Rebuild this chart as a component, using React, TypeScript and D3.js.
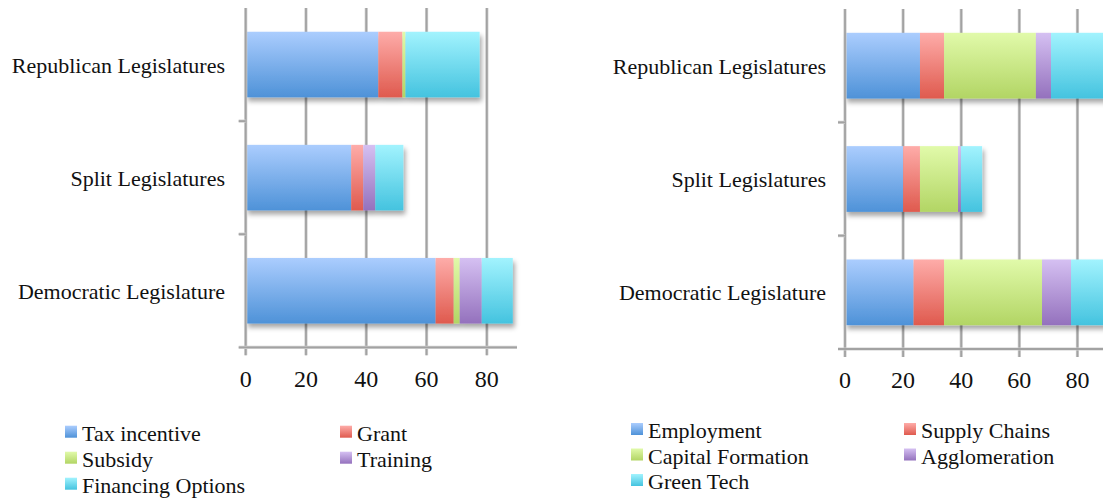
import React from "react";
import * as d3 from "d3";

// Legislature groups (rows of both charts)
const categories = ["Republican Legislatures", "Split Legislatures", "Democratic Legislature"];

// Left chart: incentive tools
const toolSeries = ["Tax incentive", "Grant", "Subsidy", "Training", "Financing Options"];
const taxIncentive = [44, 35, 63];
const grant = [8, 4, 6];
const subsidy = [1, 0, 2];
const training = [0, 4, 7.3];
const financingOptions = [24.6, 9.3, 10.3];

// Right chart: policy goals
const goalSeries = ["Employment", "Supply Chains", "Capital Formation", "Agglomeration", "Green Tech"];
const employment = [25.8, 20, 23.6];
const supplyChains = [8.3, 5.8, 10.5];
const capitalFormation = [31.6, 13.1, 33.7];
const agglomeration = [5.2, 1, 10];
const greenTech = [20, 7.3, 12];

const xTicks = [0, 20, 40, 60, 80];

// top / bottom colour of each series gradient
const palette: [string, string][] = [
  ["#abcdfe", "#4e92d8"],
  ["#feaca9", "#df5a4e"],
  ["#e1faaa", "#b2d564"],
  ["#d5c0f2", "#9471bd"],
  ["#a2f3fe", "#44c3df"],
];

const FONT = "'Liberation Serif', 'Times New Roman', serif";

type PanelProps = {
  id: string;
  series: string[];
  values: number[][];
  xRange: [number, number];
  yRange: [number, number];
  axisRight: number;
  labelRight: number;
  tickBaseline: number;
  legend: { x1: number; x2: number; y: number; step: number; sq: number };
};

function Panel({ id, series, values, xRange, yRange, axisRight, labelRight, tickBaseline, legend }: PanelProps) {
  const x = d3.scaleLinear().domain([0, 90]).range(xRange);
  const y = d3.scaleBand<string>().domain(categories).range(yRange).paddingInner(0.42).paddingOuter(0.21);

  const rows = categories.map((c, i) => {
    const r: Record<string, number | string> = { category: c };
    series.forEach((s, k) => (r[s] = values[k][i]));
    return r;
  });
  const stacked = d3.stack<Record<string, number | string>>().keys(series)(rows as any);

  const [top, bottom] = yRange;
  const x0 = x(0);
  const gridColor = "#a2a2a2";
  const gridLite = "#d0d0d0";

  const vLine = (px: number, key: string, y1: number, y2: number) => (
    <g key={key}>
      <line x1={px} x2={px} y1={y1} y2={y2} stroke={gridLite} strokeWidth={3.2} />
      <line x1={px} x2={px} y1={y1} y2={y2} stroke={gridColor} strokeWidth={1.8} />
    </g>
  );
  const hLine = (py: number, key: string, x1: number, x2: number) => (
    <g key={key}>
      <line x1={x1} x2={x2} y1={py} y2={py} stroke={gridLite} strokeWidth={3.2} />
      <line x1={x1} x2={x2} y1={py} y2={py} stroke={gridColor} strokeWidth={1.8} />
    </g>
  );

  const catBounds = [top, ...categories.map((c) => (y(c) as number) + y.bandwidth() + y.step() * 0.21)];

  return (
    <g>
      <defs>
        {series.map((s, k) => (
          <linearGradient key={s} id={`${id}-g${k}`} x1="0" y1="0" x2="0" y2="1">
            <stop offset="0%" stopColor={palette[k][0]} />
            <stop offset="100%" stopColor={palette[k][1]} />
          </linearGradient>
        ))}
        <filter id={`${id}-shadow`} x="-5%" y="-10%" width="115%" height="140%">
          <feDropShadow dx="2" dy="4" stdDeviation="2.5" floodColor="#000" floodOpacity="0.35" />
        </filter>
      </defs>

      {/* vertical gridlines with tick marks below the axis */}
      {xTicks.filter((t) => t > 0).map((t) => vLine(x(t), `grid-${t}`, top, bottom + 8))}

      {/* stacked bars */}
      {categories.map((c, i) => (
        <g key={c} filter={`url(#${id}-shadow)`}>
          {stacked.map((layer, k) => {
            const [a, b] = layer[i];
            if (b - a <= 0) return null;
            return (
              <rect
                key={layer.key}
                x={x(a)}
                y={y(c)}
                width={x(b) - x(a)}
                height={y.bandwidth()}
                fill={`url(#${id}-g${k})`}
              />
            );
          })}
        </g>
      ))}

      {/* axes */}
      {vLine(x0, "y-axis", top, bottom + 8)}
      {hLine(bottom, "x-axis", x0 - 7, axisRight)}
      {catBounds.slice(1, 3).map((b, i) => hLine(b, `ct-${i}`, x0 - 7, x0))}

      {/* category labels */}
      {categories.map((c) => (
        <text
          key={c}
          x={labelRight}
          y={(y(c) as number) + y.bandwidth() / 2 + 8}
          textAnchor="end"
          fontFamily={FONT}
          fontSize={22}
          fill="#111"
        >
          {c}
        </text>
      ))}

      {/* tick labels */}
      {xTicks.map((t) => (
        <text key={t} x={x(t)} y={tickBaseline} textAnchor="middle" fontFamily={FONT} fontSize={24} fill="#111">
          {t}
        </text>
      ))}

      {/* legend */}
      {series.map((s, k) => {
        const col = k % 2;
        const row = Math.floor(k / 2);
        const lx = col === 0 ? legend.x1 : legend.x2;
        const ly = legend.y + row * legend.step;
        return (
          <g key={s}>
            <rect x={lx} y={ly - legend.sq - 3} width={legend.sq} height={legend.sq} fill={`url(#${id}-g${k})`} />
            <text x={lx + legend.sq + 5} y={ly} fontFamily={FONT} fontSize={22} fill="#111">
              {s}
            </text>
          </g>
        );
      })}
    </g>
  );
}

export default function App() {
  return (
    <svg
      width={1103}
      height={499}
      style={{ position: "absolute", left: 0, top: 0, background: "#fff" }}
    >
      <rect width={1103} height={499} fill="#fff" />
      <Panel
        id="tools"
        series={toolSeries}
        values={[taxIncentive, grant, subsidy, training, financingOptions]}
        xRange={[245.7, 517]}
        yRange={[8, 347.3]}
        axisRight={517}
        labelRight={225}
        tickBaseline={387}
        legend={{ x1: 65, x2: 340, y: 440.7, step: 26, sq: 12 }}
      />
      <Panel
        id="goals"
        series={goalSeries}
        values={[employment, supplyChains, capitalFormation, agglomeration, greenTech]}
        xRange={[845, 1106.5]}
        yRange={[9, 349]}
        axisRight={1110}
        labelRight={826}
        tickBaseline={388}
        legend={{ x1: 631, x2: 904, y: 438, step: 25.5, sq: 12 }}
      />
    </svg>
  );
}
